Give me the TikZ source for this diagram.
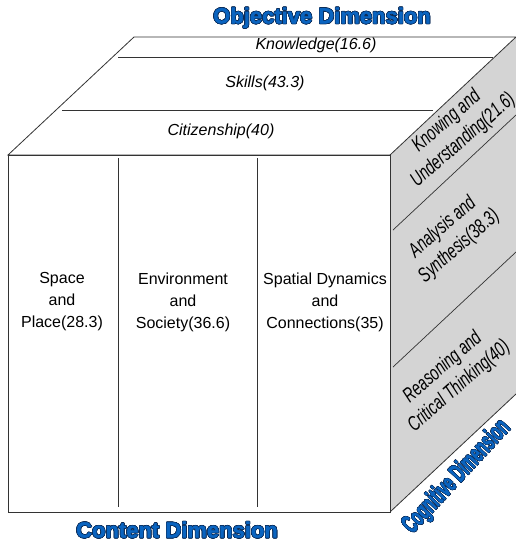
\documentclass[tikz,border=0pt]{standalone}
\usepackage{fontspec}
\setmainfont{Liberation Sans}
\newfontfamily\heavyfont{Liberation Sans}[BoldFeatures={FakeBold=1.5}]
\usepackage{graphicx}
\usepackage{contour}
\contourlength{0.6pt}
\definecolor{titleblue}{HTML}{0A64C0}
\definecolor{titleedge}{HTML}{0B2A55}
\definecolor{sidegray}{HTML}{D4D4D4}
\definecolor{edgecol}{HTML}{333333}
\begin{document}
\begin{tikzpicture}[x=1pt,y=-1pt,
  edgeline/.style={draw=edgecol, line width=0.8pt},
  divline/.style={draw=edgecol, line width=0.7pt},
  toplabel/.style={font=\fontsize{16}{18}\selectfont\itshape},
  frontlabel/.style={font=\fontsize{16}{22}\selectfont, align=center},
  sidelabel/.style={font=\fontsize{20.5}{24}\selectfont\itshape, align=center, rotate=41},
  titlelabel/.style={font=\heavyfont\fontsize{22}{26}\selectfont\bfseries, text=titleblue}
]
\useasboundingbox (0,0) rectangle (516,544);
\coordinate (F1) at (8,155);
\coordinate (F2) at (390,155);
\coordinate (F3) at (390,512);
\coordinate (F4) at (8,512);
\coordinate (B1) at (134,37);
\coordinate (B2) at (516,37);
\coordinate (B3) at (516,394);
% right face
\fill[sidegray] (F2) -- (B2) -- (B3) -- (F3) -- cycle;
\draw[edgeline] (F3) -- (B3);
% side labels (clipped to the side face)
\begin{scope}
\clip (F2) -- (B2) -- (B3) -- (F3) -- cycle;
\node[sidelabel] (knowing) at (455,131) {\scalebox{0.7}[1]{\shortstack{Knowing and\\[3pt]Understanding(21.6)}}};
\node[sidelabel] (anal) at (451,237) {\scalebox{0.7}[1]{\shortstack{Analysis and\\[3pt]Synthesis(38.3)}}};
\node[sidelabel] (reas) at (451,377) {\scalebox{0.7}[1]{\shortstack{Reasoning and\\[3pt]Critical Thinking(40)}}};
\end{scope}
% top face
\draw[edgeline, fill=white] (F1) -- (B1) -- (B2) -- (F2) -- cycle;
% front face
\draw[edgeline, fill=white] (F1) rectangle (F3);
% top divisions
\coordinate (T1a) at (118,57);  \coordinate (T1b) at (493,57);
\coordinate (T2a) at (62,110);  \coordinate (T2b) at (433,110);
\draw[divline] (T1a) -- (T1b);
\draw[divline] (T2a) -- (T2b);
% front divisions
\coordinate (V1a) at (118,158); \coordinate (V1b) at (118,507);
\coordinate (V2a) at (257,158); \coordinate (V2b) at (257,507);
\draw[divline] (V1a) -- (V1b);
\draw[divline] (V2a) -- (V2b);
% side divisions
\coordinate (S1a) at (393,230); \coordinate (S1b) at (516,115);
\coordinate (S2a) at (393,367); \coordinate (S2b) at (516,252);
\draw[divline] (S1a) -- (S1b);
\draw[divline] (S2a) -- (S2b);
% top labels
\node[toplabel] (know) at (316,45) {Knowledge(16.6)};
\node[toplabel] (skill) at (265,83) {Skills(43.3)};
\node[toplabel] (citi) at (221,131) {Citizenship(40)};
% front labels
\node[frontlabel] (space) at (62,302) {Space\\and\\Place(28.3)};
\node[frontlabel] (env) at (183,302) {Environment\\and\\Society(36.6)};
\node[frontlabel] (spat) at (325,302) {Spatial Dynamics\\and\\Connections(35)};
% titles
\node[titlelabel] (obj) at (322,18) {\contour{titleedge}{Objective Dimension}};
\node[titlelabel] (cont) at (177,530) {\contour{titleedge}{Content Dimension}};
\node[titlelabel, rotate=47, font=\heavyfont\fontsize{26}{30}\selectfont\bfseries] (cog) at (457,477) {\scalebox{0.56}[1]{\contour{titleedge}{Cognitive Dimension}}};
\end{tikzpicture}
\end{document}
